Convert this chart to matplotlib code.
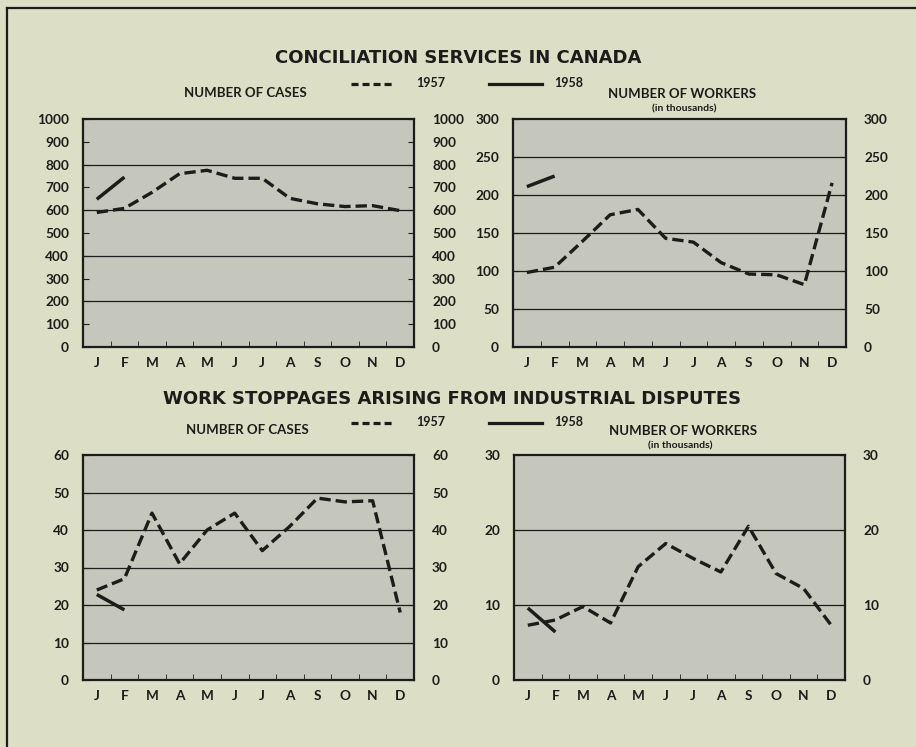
import matplotlib.pyplot as plt
from matplotlib.lines import Line2D

months = ['J', 'F', 'M', 'A', 'M', 'J', 'J', 'A', 'S', 'O', 'N', 'D']

# conciliation services
conc_cases_1957 = [590, 608, 678, 760, 775, 740, 740, 652, 628, 616, 620, 598]
conc_cases_1958 = [648, 745]
conc_workers_1957 = [98, 105, 139, 174, 181, 143, 138, 111, 96, 95, 82, 216]
conc_workers_1958 = [211, 225]

# work stoppages
stop_cases_1957 = [24, 27, 44.5, 31, 40, 44.5, 34.5, 41, 48.5, 47.5, 47.8, 18]
stop_cases_1958 = [22.8, 18.7]
stop_workers_1957 = [7.3, 8.0, 9.8, 7.6, 15.1, 18.2, 16.2, 14.4, 20.5, 14.2, 12.2, 7.3]
stop_workers_1958 = [9.6, 6.4]

BG = '#dcdec5'
PLOT_BG = '#c5c7bc'
INK = '#1c1c1a'
DASH = (0, (3.4, 1.5))

W, H = 916, 747
fig = plt.figure(figsize=(W / 100, H / 100), dpi=100, facecolor=BG)


def fx(x):
    return x / W


def fy(y):
    return 1 - y / H


def panel(x0, x1, y0, y1, ymax, ystep, grid, s57, s58):
    ax = fig.add_axes([fx(x0), fy(y1), fx(x1 - x0), (y1 - y0) / H])
    ax.set_facecolor(PLOT_BG)
    ax.set_xlim(0, 12)
    ax.set_ylim(0, ymax)
    for g in grid:
        ax.axhline(g, color=INK, lw=0.9, zorder=1)
    xs = [i + 0.5 for i in range(12)]
    ax.plot(xs, s57, color=INK, lw=2.4, linestyle=DASH, zorder=3)
    ax.plot(xs[:len(s58)], s58, color=INK, lw=2.5, solid_capstyle='butt', zorder=3)

    for sp in ax.spines.values():
        sp.set_color(INK)
        sp.set_linewidth(1.6)

    ax.set_xticks(xs)
    ax.set_xticklabels(months)
    ax.set_xticks(range(1, 12), minor=True)
    ax.tick_params(axis='x', which='major', length=0, pad=7)
    ax.tick_params(axis='x', which='minor', length=4, direction='in', color=INK)

    yt = list(range(0, ymax + 1, ystep))
    ax.set_yticks(yt)
    ax.tick_params(axis='y', length=4, direction='in', pad=10, color=INK)
    ax2 = ax.twinx()
    ax2.set_ylim(0, ymax)
    ax2.set_yticks(yt)
    ax2.tick_params(axis='y', length=4, direction='in', pad=13, color=INK)
    for sp in ax2.spines.values():
        sp.set_visible(False)

    for lab in ax.get_xticklabels() + ax.get_yticklabels() + ax2.get_yticklabels():
        lab.set_fontfamily('Lato')
        lab.set_fontweight('bold')
        lab.set_fontsize(9.8)
        lab.set_color(INK)
    return ax


panel(83, 414, 119, 347, 1000, 100, [200, 400, 600, 800], conc_cases_1957, conc_cases_1958)
panel(513, 846, 119, 347, 300, 50, [50, 100, 150, 200, 250], conc_workers_1957, conc_workers_1958)
panel(83, 414, 455, 680, 60, 10, [10, 20, 30, 40, 50], stop_cases_1957, stop_cases_1958)
panel(514, 845, 455, 680, 30, 10, [10, 20], stop_workers_1957, stop_workers_1958)


def label(x, y, s, size=9.5, family='Lato'):
    fig.text(fx(x), fy(y), s, ha='center', va='center', fontsize=size,
             fontweight='bold', family=family, color=INK)


def legend(y):
    fig.add_artist(Line2D([fx(351), fx(393)], [fy(y), fy(y)], color=INK, lw=2.3,
                          linestyle=(0, (2.2, 1.25))))
    fig.add_artist(Line2D([fx(489), fx(542)], [fy(y), fy(y)], color=INK, lw=2.3))
    fig.text(fx(416), fy(y - 1), '1957', ha='left', va='center', fontsize=9,
             fontweight='bold', family='Lato', color=INK)
    fig.text(fx(554), fy(y - 1), '1958', ha='left', va='center', fontsize=9,
             fontweight='bold', family='Lato', color=INK)


label(458, 58, 'CONCILIATION SERVICES IN CANADA', size=13, family='DejaVu Sans')
legend(84)
label(245, 93, 'NUMBER OF CASES')
label(682, 94, 'NUMBER OF WORKERS')
label(684, 109, '(in thousands)', size=7.5)

label(452, 399, 'WORK STOPPAGES ARISING FROM INDUSTRIAL DISPUTES', size=13, family='DejaVu Sans')
legend(423)
label(247, 430, 'NUMBER OF CASES')
label(683, 431, 'NUMBER OF WORKERS')
label(680, 446, '(in thousands)', size=7.5)

# page frame (left and top edges)
fig.add_artist(Line2D([fx(7), fx(7)], [fy(8), 0], color=INK, lw=1.6))
fig.add_artist(Line2D([fx(7), 1], [fy(8), fy(8)], color=INK, lw=1.6))

fig.savefig('out.png', dpi=100, facecolor=BG)
